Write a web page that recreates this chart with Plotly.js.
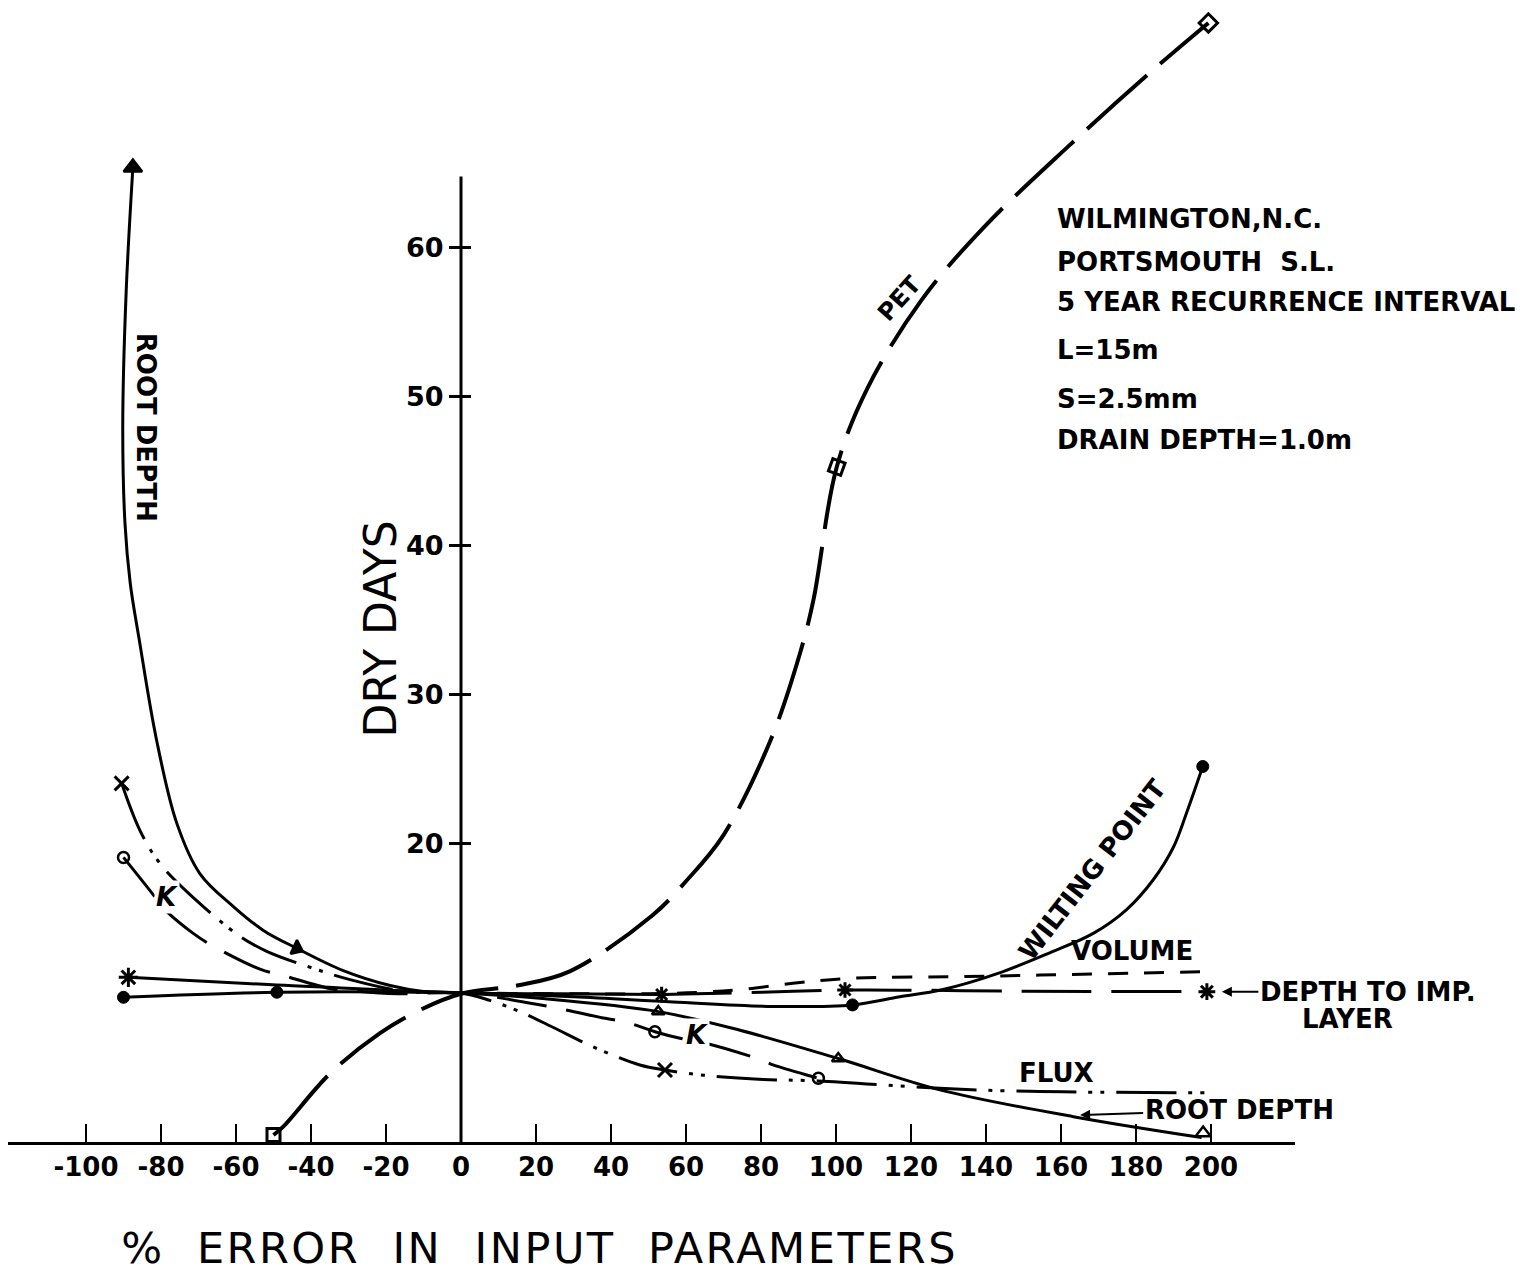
<!DOCTYPE html>
<html>
<head>
<meta charset="utf-8">
<script src="https://cdn.plot.ly/plotly-3.0.1.min.js"></script>
<style>
html,body{margin:0;padding:0;background:#fff;}
#chart{width:1528px;height:1272px;}
.annotation[data-index="0"] .annotation-text{letter-spacing:2.5px;}
</style>
</head>
<body>
<div id="chart"></div>
<script>
// ---- axis ticks ----
const xTickVals = [-100, -80, -60, -40, -20, 0, 20, 40, 60, 80, 100, 120, 140, 160, 180, 200];
const xTickText = ["-100", "-80", "-60", "-40", "-20", "0", "20", "40", "60", "80", "100", "120", "140", "160", "180", "200"];
const yTickVals = [20, 30, 40, 50, 60];
const yTickText = ["20", "30", "40", "50", "60"];

// ---- curves (% error in input parameter -> dry days) ----
const rootX = [-87.5, -89.3, -90.2, -89.6, -88.2, -85.8, -81.2, -75.8, -69.6, -60.7, -52.7, -43.8, -31.4, -18.9, -10, 0, 21, 52.6, 74.4, 100.6, 127.7, 163.3, 197.5];
const rootY = [65.4, 57, 48, 41.5, 37.5, 33.7, 27.0, 21.4, 18.0, 15.8, 14.2, 13.0, 11.5, 10.5, 10.1, 10.0, 9.64, 8.75, 7.5, 5.6, 3.5, 1.7, 0.3];

const petX = [-50, -47.4, -34.9, -21.6, -11.8, 0, 15, 29, 51, 60, 70, 82.6, 90.4, 94, 100.2, 108.4, 122.8, 139.1, 162.3, 184.8, 199.3];
const petY = [0.47, 1.03, 4.6, 7.3, 8.75, 9.95, 10.5, 11.45, 15.2, 17.5, 20.6, 27.0, 32.8, 36.4, 45.3, 50.6, 56.5, 61.3, 66.9, 72.0, 75.1];

const wiltX = [-90, -49.1, 0, 30, 56.5, 83, 104.4, 117, 128, 143, 157, 168.6, 177.5, 184.6, 190, 193.5, 197.8];
const wiltY = [9.71, 10.05, 10, 9.75, 9.4, 9.1, 9.2, 9.75, 10.2, 11.3, 12.7, 14.0, 15.6, 17.6, 19.8, 22.1, 25.2];

const volX = [0, 50, 63.7, 75.2, 90.4, 105, 134, 154.4, 198.9];
const volY = [10, 9.95, 10.05, 10.25, 10.7, 11.0, 11.1, 11.2, 11.43];

const depthX = [-88.7, -49.1, 0, 26, 53.5, 80, 102.4, 150, 198.9];
const depthY = [11.05, 10.54, 10, 9.95, 9.9, 10.05, 10.2, 10.12, 10.09];

const kX = [-90, -82.1, -79.4, -71.4, -66.5, -53.6, -47.8, -34.9, -31.4, -17.1, 0, 23.7, 38.4, 43.7, 51.7, 58.4, 63.7, 80.2, 83.2, 93.9, 95.3];
const kY = [19.1, 16.6, 15.7, 14.0, 13.2, 11.6, 11.2, 10.3, 10.2, 9.95, 10, 9.08, 8.3, 8.07, 7.4, 6.96, 6.73, 5.5, 5.17, 4.38, 4.28];

const fluxX = [-90.5, -85.6, -80.3, -70.5, -58.9, -51.8, -41.1, -29.6, -14.5, 0, 7.7, 15.7, 24.5, 36, 47.7, 54.4, 66, 80.6, 95.3, 127.7, 151.7, 198.9];
const fluxY = [24.07, 20.9, 18.7, 16.2, 13.8, 12.8, 11.8, 10.9, 10.1, 10, 9.5, 8.75, 7.7, 6.3, 5.17, 4.83, 4.45, 4.2, 4.1, 3.6, 3.4, 3.3];

// ---- plotted symbols on the curves ----
const rootMarkX = [-87.5, -43.8, 52.6, 100.6, 197.9];
const rootMarkY = [65.4, 13.0, 8.75, 5.6, 0.6];
const petMarkX = [-50, 100.2, 199.3];
const petMarkY = [0.47, 45.3, 75.1];
const wiltMarkX = [-90, -49.1, 104.4, 197.8];
const wiltMarkY = [9.71, 10.05, 9.2, 25.2];
const kMarkX = [-90, 51.7, 95.3];
const kMarkY = [19.1, 7.4, 4.28];
const fluxMarkX = [-90.5, 54.4];
const fluxMarkY = [24.07, 4.83];
const depthMarkX = [-88.7, 53.5, 102.4, 198.9];
const depthMarkY = [11.05, 9.9, 10.2, 10.09];

// ---- text ----
const infoLines = ["WILMINGTON,N.C.", "PORTSMOUTH\u00a0\u00a0S.L.", "5 YEAR RECURRENCE INTERVAL", "L=15m", "S=2.5mm", "DRAIN DEPTH=1.0m"];

const INK = '#000000';
const FONT = 'DejaVu Sans, Liberation Sans, sans-serif';
const bold = (s) => ({family: FONT, size: s, color: INK, weight: 'bold'});

function lineTrace(x, y, width, dash, name) {
  return {x: x, y: y, type: 'scatter', mode: 'lines', name: name,
    line: {color: INK, width: width, dash: dash, shape: 'spline', smoothing: 1.0},
    hoverinfo: 'skip', showlegend: false};
}
function markTrace(x, y, symbol, size, lw, angle, yaxis) {
  return {x: x, y: y, type: 'scatter', mode: 'markers', cliponaxis: false, yaxis: yaxis || 'y',
    marker: {symbol: symbol, size: size, color: INK, opacity: 1, angle: angle || 0, line: {color: INK, width: lw}},
    hoverinfo: 'skip', showlegend: false};
}

const traces = [
  lineTrace(rootX, rootY, 3, 'solid', 'Root depth'),
  lineTrace(petX, petY, 4, '80px,18px', 'PET'),
  lineTrace(wiltX, wiltY, 3, 'solid', 'Wilting point'),
  lineTrace(volX, volY, 3, '20px,16px', 'Volume'),
  lineTrace(depthX.slice(0, 5), depthY.slice(0, 5), 3, 'solid', 'Depth to imp. layer'),
  lineTrace(depthX.slice(4), depthY.slice(4), 3, '70px,20px', 'Depth to imp. layer'),
  lineTrace(kX, kY, 3, '50px,20px', 'K'),
  lineTrace(fluxX, fluxY, 3, '60px,12px,4px,8px,4px,12px', 'Flux'),
  markTrace(rootMarkX, rootMarkY, ['triangle-up', 'triangle-up', 'triangle-up-open', 'triangle-up-open', 'triangle-up-open'], [16, 13, 11, 11, 13], 2.5, [0, 115, 0, 0, 0]),
  markTrace(petMarkX, petMarkY, 'square-open', [13, 13, 13], 3, [0, 20, 45], 'y2'),
  markTrace(wiltMarkX, wiltMarkY, 'circle', 12, 1, 0),
  markTrace(kMarkX, kMarkY, 'circle-open', 11, 2.5, 0),
  markTrace(fluxMarkX, fluxMarkY, 'x-thin-open', 14, 3, 0),
  markTrace(depthMarkX, depthMarkY, 'asterisk-open', [16, 13, 13, 14], 3, 0)
];

const annotations = [
  {text: '%\u00a0\u00a0ERROR\u00a0\u00a0IN\u00a0\u00a0INPUT\u00a0\u00a0PARAMETERS', xref: 'paper', yref: 'paper',
   x: (539 - 8) / 1287, y: (1142 - 1248) / 1132, showarrow: false, xanchor: 'center', yanchor: 'middle',
   font: {family: FONT, size: 43, color: INK}},
  {text: 'DRY DAYS', x: -21.6, y: 34.4, textangle: -90, showarrow: false, font: {family: FONT, size: 44, color: INK}},
  {text: 'ROOT DEPTH', x: -84, y: 48.0, textangle: 90, showarrow: false, font: bold(26)},
  {text: 'PET', x: 116.8, y: 56.6, textangle: -48, showarrow: false, font: bold(24)},
  {text: 'WILTING POINT', x: 168.3, y: 18.26, textangle: -52, showarrow: false, font: bold(26)},
  {text: 'VOLUME', x: 178.9, y: 12.82, showarrow: false, font: bold(26)},
  {text: 'FLUX', x: 158.7, y: 4.63, showarrow: false, font: bold(26)},
  {text: 'DEPTH TO IMP.', x: 202.9, y: 10.09, ax: 146, ay: 0, showarrow: true, arrowhead: 2, arrowsize: 1, arrowwidth: 2, arrowcolor: INK, font: bold(26)},
  {text: 'LAYER', xref: 'paper', yref: 'paper', x: (1347 - 8) / 1287, y: (1142 - 1019) / 1132, xanchor: 'center', yanchor: 'middle', showarrow: false, font: bold(26)},
  {text: 'ROOT DEPTH', x: 165.1, y: 1.81, ax: 159, ay: -5, showarrow: true, arrowhead: 2, arrowsize: 1, arrowwidth: 2, arrowcolor: INK, font: bold(26)},
  {text: '<i>K</i>', x: -78.4, y: 16.44, showarrow: false, bgcolor: '#ffffff', font: bold(26)},
  {text: '<i>K</i>', x: 62.9, y: 7.18, showarrow: false, bgcolor: '#ffffff', font: bold(26)}
];
const infoY = [61.95, 59.06, 56.38, 53.15, 49.87, 47.1];
infoLines.forEach((t, i) => annotations.push({text: t, x: 158.4, y: infoY[i], xanchor: 'left', yanchor: 'middle', showarrow: false, font: bold(26)}));

const layout = {
  width: 1528, height: 1272,
  margin: {l: 8, r: 233, t: 10, b: 130, pad: 0},
  paper_bgcolor: '#ffffff', plot_bgcolor: '#ffffff',
  showlegend: false,
  xaxis: {range: [-120.8, 222.4], showline: true, linewidth: 3, linecolor: INK,
    ticks: 'inside', ticklen: 18, tickwidth: 2.5, tickcolor: INK,
    tickmode: 'array', tickvals: xTickVals, ticktext: xTickText, tickfont: bold(26),
    showgrid: false, zeroline: false, fixedrange: true},
  yaxis: {range: [0, 75.97], anchor: 'free', position: 0.352,
    ticks: 'outside', ticklen: 12, tickwidth: 3, tickcolor: INK,
    tickmode: 'array', tickvals: yTickVals, ticktext: yTickText, tickfont: bold(27),
    showline: false, showgrid: false, zeroline: false, fixedrange: true},
  yaxis2: {range: [0, 75.97], overlaying: 'y', matches: 'y', anchor: 'free', position: 0.352,
    ticks: 'inside', ticklen: 9, tickwidth: 3, tickcolor: INK,
    tickmode: 'array', tickvals: yTickVals, showticklabels: false,
    showline: false, showgrid: false, zeroline: false, fixedrange: true},
  shapes: [{type: 'line', xref: 'x', yref: 'y', x0: 0, x1: 0, y0: 0, y1: 64.8, line: {color: INK, width: 3}}],
  annotations: annotations
};

Plotly.newPlot('chart', traces, layout, {staticPlot: true, displayModeBar: false});
</script>
</body>
</html>
